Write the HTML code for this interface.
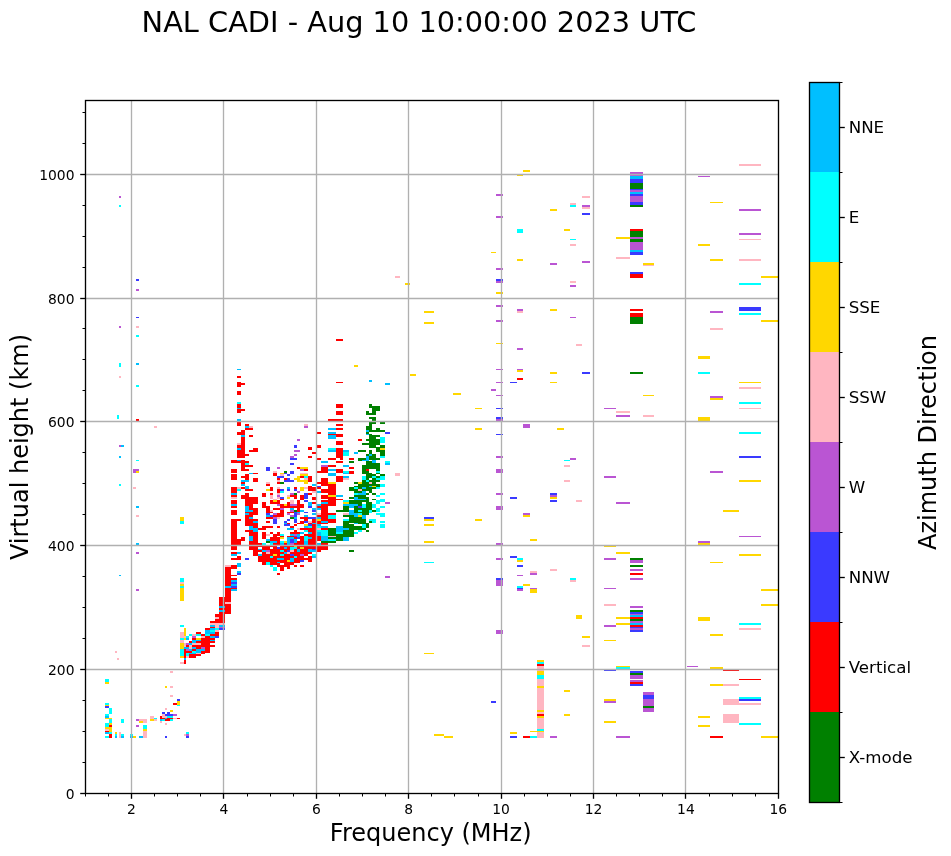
<!DOCTYPE html><html><head><meta charset="utf-8"><title>NAL CADI</title>
<style>html,body{margin:0;padding:0;background:#fff}svg{display:block}text{font-family:"DejaVu Sans","Liberation Sans",sans-serif;fill:#000}</style></head><body>
<svg width="951" height="856" viewBox="0 0 951 856">
<rect width="951" height="856" fill="#fff"/>
<g shape-rendering="crispEdges">
<rect x="105" y="679" width="4" height="3" fill="#00ffff"/>
<rect x="105" y="682" width="4" height="2" fill="#ffd700"/>
<rect x="105" y="703" width="4" height="2" fill="#00ffff"/>
<rect x="105" y="705" width="4" height="1" fill="#ffd700"/>
<rect x="105" y="706" width="4" height="2" fill="#3a3aff"/>
<rect x="109" y="708" width="3" height="6" fill="#00ffff"/>
<rect x="105" y="714" width="4" height="2" fill="#00ffff"/>
<rect x="105" y="716" width="4" height="2" fill="#00bfff"/>
<rect x="105" y="718" width="7" height="1" fill="#ffd700"/>
<rect x="109" y="719" width="3" height="4" fill="#00ffff"/>
<rect x="121" y="719" width="3" height="4" fill="#00ffff"/>
<rect x="105" y="723" width="4" height="4" fill="#00ffff"/>
<rect x="109" y="723" width="3" height="2" fill="#ffd700"/>
<rect x="109" y="725" width="3" height="2" fill="#ff0000"/>
<rect x="105" y="727" width="7" height="2" fill="#ffd700"/>
<rect x="105" y="729" width="4" height="2" fill="#ffb6c1"/>
<rect x="109" y="729" width="3" height="3" fill="#ffd700"/>
<rect x="105" y="731" width="4" height="1" fill="#ff0000"/>
<rect x="105" y="732" width="4" height="2" fill="#00bfff"/>
<rect x="109" y="732" width="3" height="2" fill="#00ffff"/>
<rect x="109" y="734" width="3" height="4" fill="#ff0000"/>
<rect x="105" y="736" width="4" height="2" fill="#00ffff"/>
<rect x="115" y="732" width="2" height="2" fill="#ffd700"/>
<rect x="115" y="734" width="2" height="2" fill="#00ffff"/>
<rect x="115" y="736" width="2" height="2" fill="#00bfff"/>
<rect x="119" y="732" width="2" height="6" fill="#ffb6c1"/>
<rect x="121" y="734" width="3" height="2" fill="#00ffff"/>
<rect x="121" y="736" width="3" height="2" fill="#00bfff"/>
<rect x="130" y="734" width="3" height="2" fill="#00ffff"/>
<rect x="130" y="736" width="3" height="2" fill="#00bfff"/>
<rect x="133" y="736" width="3" height="2" fill="#ffd700"/>
<rect x="139" y="736" width="4" height="2" fill="#00bfff"/>
<rect x="136" y="719" width="3" height="2" fill="#ba55d3"/>
<rect x="139" y="719" width="8" height="2" fill="#ffb6c1"/>
<rect x="139" y="721" width="4" height="2" fill="#ffd700"/>
<rect x="143" y="721" width="4" height="2" fill="#ffb6c1"/>
<rect x="136" y="725" width="3" height="2" fill="#ba55d3"/>
<rect x="143" y="725" width="4" height="4" fill="#00ffff"/>
<rect x="143" y="729" width="4" height="2" fill="#ffd700"/>
<rect x="143" y="731" width="4" height="7" fill="#ffb6c1"/>
<rect x="150" y="716" width="4" height="3" fill="#ffb6c1"/>
<rect x="150" y="719" width="4" height="2" fill="#ffd700"/>
<rect x="154" y="718" width="3" height="1" fill="#00ffff"/>
<rect x="154" y="719" width="3" height="2" fill="#ffb6c1"/>
<rect x="170" y="695" width="3" height="2" fill="#ffb6c1"/>
<rect x="177" y="699" width="3" height="2" fill="#3a3aff"/>
<rect x="177" y="701" width="3" height="4" fill="#ffd700"/>
<rect x="173" y="703" width="4" height="2" fill="#ff0000"/>
<rect x="177" y="705" width="3" height="1" fill="#00ffff"/>
<rect x="165" y="708" width="2" height="2" fill="#ffb6c1"/>
<rect x="170" y="710" width="3" height="2" fill="#ffd700"/>
<rect x="162" y="712" width="3" height="2" fill="#3a3aff"/>
<rect x="167" y="712" width="3" height="2" fill="#3a3aff"/>
<rect x="162" y="714" width="3" height="2" fill="#ffb6c1"/>
<rect x="165" y="714" width="8" height="2" fill="#3a3aff"/>
<rect x="173" y="714" width="4" height="2" fill="#ba55d3"/>
<rect x="160" y="716" width="2" height="3" fill="#ff0000"/>
<rect x="162" y="716" width="5" height="2" fill="#ffb6c1"/>
<rect x="167" y="716" width="6" height="2" fill="#00ffff"/>
<rect x="162" y="718" width="3" height="1" fill="#ff0000"/>
<rect x="165" y="718" width="2" height="1" fill="#00bfff"/>
<rect x="167" y="718" width="6" height="1" fill="#ff0000"/>
<rect x="173" y="718" width="4" height="1" fill="#ffb6c1"/>
<rect x="177" y="718" width="3" height="1" fill="#ff0000"/>
<rect x="160" y="719" width="2" height="2" fill="#00bfff"/>
<rect x="162" y="719" width="3" height="2" fill="#00ffff"/>
<rect x="165" y="719" width="5" height="2" fill="#ff0000"/>
<rect x="170" y="719" width="3" height="2" fill="#00ffff"/>
<rect x="160" y="721" width="2" height="2" fill="#ffb6c1"/>
<rect x="165" y="723" width="2" height="2" fill="#ffb6c1"/>
<rect x="165" y="736" width="2" height="2" fill="#3a3aff"/>
<rect x="186" y="732" width="3" height="2" fill="#00ffff"/>
<rect x="184" y="734" width="2" height="2" fill="#ffb6c1"/>
<rect x="186" y="734" width="3" height="2" fill="#ba55d3"/>
<rect x="186" y="736" width="3" height="2" fill="#3a3aff"/>
<rect x="170" y="671" width="3" height="2" fill="#ffb6c1"/>
<rect x="165" y="686" width="2" height="2" fill="#ffd700"/>
<rect x="170" y="686" width="3" height="2" fill="#ffb6c1"/>
<rect x="119" y="196" width="2" height="2" fill="#ba55d3"/>
<rect x="119" y="205" width="2" height="2" fill="#00ffff"/>
<rect x="136" y="279" width="3" height="2" fill="#3a3aff"/>
<rect x="136" y="289" width="3" height="2" fill="#ba55d3"/>
<rect x="136" y="317" width="3" height="1" fill="#3a3aff"/>
<rect x="119" y="326" width="2" height="2" fill="#ba55d3"/>
<rect x="136" y="326" width="3" height="2" fill="#ffb6c1"/>
<rect x="136" y="335" width="3" height="2" fill="#00ffff"/>
<rect x="119" y="363" width="2" height="4" fill="#00ffff"/>
<rect x="136" y="363" width="3" height="2" fill="#00bfff"/>
<rect x="119" y="376" width="2" height="2" fill="#ffb6c1"/>
<rect x="136" y="385" width="3" height="2" fill="#00ffff"/>
<rect x="117" y="415" width="2" height="4" fill="#00ffff"/>
<rect x="136" y="419" width="3" height="2" fill="#ff0000"/>
<rect x="154" y="426" width="3" height="2" fill="#ffb6c1"/>
<rect x="119" y="445" width="2" height="2" fill="#ba55d3"/>
<rect x="121" y="445" width="3" height="2" fill="#00bfff"/>
<rect x="119" y="456" width="2" height="2" fill="#00bfff"/>
<rect x="136" y="460" width="3" height="1" fill="#00ffff"/>
<rect x="133" y="469" width="6" height="2" fill="#ba55d3"/>
<rect x="133" y="471" width="3" height="2" fill="#ba55d3"/>
<rect x="136" y="471" width="3" height="2" fill="#ffd700"/>
<rect x="119" y="484" width="2" height="2" fill="#00ffff"/>
<rect x="133" y="487" width="3" height="2" fill="#ffb6c1"/>
<rect x="136" y="506" width="3" height="2" fill="#00bfff"/>
<rect x="136" y="515" width="3" height="2" fill="#ffb6c1"/>
<rect x="180" y="517" width="4" height="4" fill="#ffd700"/>
<rect x="180" y="521" width="4" height="3" fill="#00ffff"/>
<rect x="136" y="543" width="3" height="2" fill="#00bfff"/>
<rect x="136" y="552" width="3" height="2" fill="#ba55d3"/>
<rect x="119" y="575" width="2" height="1" fill="#00bfff"/>
<rect x="136" y="589" width="3" height="2" fill="#ba55d3"/>
<rect x="180" y="578" width="4" height="4" fill="#00ffff"/>
<rect x="180" y="582" width="4" height="2" fill="#ffb6c1"/>
<rect x="180" y="584" width="4" height="2" fill="#ffd700"/>
<rect x="180" y="586" width="4" height="2" fill="#00ffff"/>
<rect x="180" y="588" width="4" height="13" fill="#ffd700"/>
<rect x="115" y="651" width="2" height="2" fill="#ffb6c1"/>
<rect x="117" y="658" width="2" height="2" fill="#ffb6c1"/>
<rect x="395" y="276" width="5" height="2" fill="#ffb6c1"/>
<rect x="405" y="283" width="5" height="2" fill="#ffd700"/>
<rect x="424" y="311" width="10" height="2" fill="#ffd700"/>
<rect x="424" y="322" width="10" height="2" fill="#ffd700"/>
<rect x="336" y="339" width="7" height="2" fill="#ff0000"/>
<rect x="354" y="365" width="4" height="2" fill="#ffd700"/>
<rect x="410" y="374" width="6" height="2" fill="#ffd700"/>
<rect x="453" y="393" width="8" height="2" fill="#ffd700"/>
<rect x="475" y="408" width="7" height="1" fill="#ffd700"/>
<rect x="475" y="428" width="7" height="2" fill="#ffd700"/>
<rect x="496" y="369" width="7" height="1" fill="#ba55d3"/>
<rect x="496" y="382" width="7" height="1" fill="#ba55d3"/>
<rect x="491" y="389" width="5" height="2" fill="#ba55d3"/>
<rect x="496" y="395" width="7" height="1" fill="#ba55d3"/>
<rect x="496" y="408" width="7" height="1" fill="#3a3aff"/>
<rect x="496" y="417" width="7" height="2" fill="#3a3aff"/>
<rect x="496" y="419" width="7" height="2" fill="#ba55d3"/>
<rect x="496" y="434" width="7" height="1" fill="#3a3aff"/>
<rect x="496" y="456" width="7" height="2" fill="#ba55d3"/>
<rect x="496" y="469" width="7" height="4" fill="#ba55d3"/>
<rect x="523" y="170" width="7" height="2" fill="#ffd700"/>
<rect x="517" y="175" width="6" height="1" fill="#ffd700"/>
<rect x="496" y="194" width="7" height="2" fill="#ba55d3"/>
<rect x="496" y="216" width="7" height="2" fill="#ba55d3"/>
<rect x="517" y="229" width="6" height="4" fill="#00ffff"/>
<rect x="550" y="209" width="7" height="2" fill="#ffd700"/>
<rect x="570" y="203" width="6" height="2" fill="#ffb6c1"/>
<rect x="570" y="205" width="6" height="2" fill="#00ffff"/>
<rect x="564" y="229" width="6" height="2" fill="#ffd700"/>
<rect x="570" y="239" width="6" height="1" fill="#00ffff"/>
<rect x="570" y="244" width="6" height="2" fill="#ffb6c1"/>
<rect x="491" y="252" width="5" height="1" fill="#ffd700"/>
<rect x="582" y="196" width="8" height="2" fill="#ffb6c1"/>
<rect x="582" y="205" width="8" height="2" fill="#ba55d3"/>
<rect x="582" y="207" width="8" height="2" fill="#ffb6c1"/>
<rect x="582" y="213" width="8" height="2" fill="#3a3aff"/>
<rect x="630" y="172" width="13" height="4" fill="#ba55d3"/>
<rect x="630" y="176" width="13" height="3" fill="#00bfff"/>
<rect x="630" y="179" width="13" height="4" fill="#3a3aff"/>
<rect x="630" y="183" width="13" height="6" fill="#008000"/>
<rect x="630" y="189" width="13" height="1" fill="#3a3aff"/>
<rect x="630" y="190" width="13" height="2" fill="#ba55d3"/>
<rect x="630" y="192" width="13" height="2" fill="#00bfff"/>
<rect x="630" y="194" width="13" height="2" fill="#3a3aff"/>
<rect x="630" y="196" width="13" height="6" fill="#ba55d3"/>
<rect x="630" y="202" width="13" height="3" fill="#3a3aff"/>
<rect x="630" y="205" width="13" height="2" fill="#008000"/>
<rect x="630" y="229" width="13" height="2" fill="#ff0000"/>
<rect x="630" y="231" width="13" height="6" fill="#008000"/>
<rect x="630" y="237" width="13" height="2" fill="#ba55d3"/>
<rect x="630" y="239" width="13" height="3" fill="#008000"/>
<rect x="630" y="242" width="13" height="8" fill="#ba55d3"/>
<rect x="630" y="250" width="13" height="2" fill="#00bfff"/>
<rect x="630" y="252" width="13" height="3" fill="#3a3aff"/>
<rect x="616" y="237" width="14" height="2" fill="#ffd700"/>
<rect x="616" y="257" width="14" height="2" fill="#ffb6c1"/>
<rect x="582" y="261" width="8" height="2" fill="#ba55d3"/>
<rect x="643" y="263" width="11" height="2" fill="#ffd700"/>
<rect x="643" y="265" width="11" height="1" fill="#ffb6c1"/>
<rect x="630" y="272" width="13" height="2" fill="#3a3aff"/>
<rect x="630" y="274" width="13" height="4" fill="#ff0000"/>
<rect x="630" y="309" width="13" height="2" fill="#ff0000"/>
<rect x="630" y="313" width="13" height="4" fill="#ff0000"/>
<rect x="630" y="317" width="13" height="7" fill="#008000"/>
<rect x="576" y="344" width="6" height="2" fill="#ffb6c1"/>
<rect x="582" y="372" width="8" height="2" fill="#3a3aff"/>
<rect x="630" y="372" width="13" height="2" fill="#008000"/>
<rect x="643" y="395" width="11" height="1" fill="#ffd700"/>
<rect x="604" y="408" width="12" height="1" fill="#ba55d3"/>
<rect x="616" y="411" width="14" height="2" fill="#ffb6c1"/>
<rect x="616" y="415" width="14" height="2" fill="#ba55d3"/>
<rect x="643" y="415" width="11" height="2" fill="#ffb6c1"/>
<rect x="604" y="476" width="12" height="2" fill="#ba55d3"/>
<rect x="576" y="500" width="6" height="2" fill="#ffb6c1"/>
<rect x="616" y="502" width="14" height="2" fill="#ba55d3"/>
<rect x="604" y="546" width="12" height="1" fill="#ffd700"/>
<rect x="616" y="552" width="14" height="2" fill="#ffd700"/>
<rect x="604" y="558" width="12" height="2" fill="#ba55d3"/>
<rect x="630" y="558" width="13" height="2" fill="#008000"/>
<rect x="630" y="560" width="13" height="3" fill="#ba55d3"/>
<rect x="630" y="565" width="13" height="2" fill="#008000"/>
<rect x="630" y="569" width="13" height="2" fill="#ba55d3"/>
<rect x="630" y="573" width="13" height="2" fill="#ff0000"/>
<rect x="630" y="578" width="13" height="2" fill="#ba55d3"/>
<rect x="604" y="588" width="12" height="1" fill="#ba55d3"/>
<rect x="604" y="604" width="12" height="2" fill="#ffb6c1"/>
<rect x="630" y="606" width="13" height="2" fill="#ba55d3"/>
<rect x="630" y="610" width="13" height="2" fill="#008000"/>
<rect x="630" y="612" width="13" height="2" fill="#3a3aff"/>
<rect x="630" y="614" width="13" height="1" fill="#ba55d3"/>
<rect x="630" y="615" width="13" height="2" fill="#00bfff"/>
<rect x="630" y="617" width="13" height="2" fill="#ff0000"/>
<rect x="630" y="619" width="13" height="2" fill="#008000"/>
<rect x="630" y="621" width="13" height="2" fill="#ba55d3"/>
<rect x="630" y="623" width="13" height="2" fill="#00bfff"/>
<rect x="630" y="625" width="13" height="2" fill="#ff0000"/>
<rect x="630" y="627" width="13" height="1" fill="#3a3aff"/>
<rect x="630" y="628" width="13" height="2" fill="#ba55d3"/>
<rect x="630" y="630" width="13" height="2" fill="#3a3aff"/>
<rect x="616" y="617" width="14" height="2" fill="#ffd700"/>
<rect x="616" y="623" width="14" height="2" fill="#ffd700"/>
<rect x="604" y="625" width="12" height="2" fill="#ba55d3"/>
<rect x="604" y="640" width="12" height="1" fill="#ffd700"/>
<rect x="576" y="615" width="6" height="4" fill="#ffd700"/>
<rect x="582" y="636" width="8" height="2" fill="#ffd700"/>
<rect x="582" y="645" width="8" height="2" fill="#ffb6c1"/>
<rect x="616" y="666" width="14" height="1" fill="#ffd700"/>
<rect x="616" y="667" width="14" height="2" fill="#00ffff"/>
<rect x="604" y="670" width="12" height="1" fill="#3a3aff"/>
<rect x="630" y="671" width="13" height="2" fill="#3a3aff"/>
<rect x="630" y="673" width="13" height="2" fill="#008000"/>
<rect x="630" y="675" width="13" height="4" fill="#ba55d3"/>
<rect x="630" y="680" width="13" height="2" fill="#ba55d3"/>
<rect x="630" y="682" width="13" height="2" fill="#ff0000"/>
<rect x="630" y="684" width="13" height="2" fill="#3a3aff"/>
<rect x="643" y="692" width="11" height="3" fill="#ba55d3"/>
<rect x="643" y="695" width="11" height="4" fill="#3a3aff"/>
<rect x="643" y="699" width="11" height="7" fill="#ba55d3"/>
<rect x="643" y="706" width="11" height="2" fill="#008000"/>
<rect x="643" y="708" width="11" height="4" fill="#ba55d3"/>
<rect x="604" y="699" width="12" height="2" fill="#ffd700"/>
<rect x="604" y="701" width="12" height="2" fill="#ba55d3"/>
<rect x="604" y="721" width="12" height="2" fill="#ffd700"/>
<rect x="616" y="736" width="14" height="2" fill="#ba55d3"/>
<rect x="739" y="164" width="22" height="2" fill="#ffb6c1"/>
<rect x="698" y="176" width="12" height="1" fill="#ba55d3"/>
<rect x="710" y="202" width="13" height="1" fill="#ffd700"/>
<rect x="739" y="209" width="22" height="2" fill="#ba55d3"/>
<rect x="739" y="233" width="22" height="2" fill="#ba55d3"/>
<rect x="739" y="239" width="22" height="1" fill="#ffb6c1"/>
<rect x="698" y="244" width="12" height="2" fill="#ffd700"/>
<rect x="710" y="259" width="13" height="2" fill="#ffd700"/>
<rect x="739" y="259" width="22" height="2" fill="#ffb6c1"/>
<rect x="761" y="276" width="17" height="2" fill="#ffd700"/>
<rect x="739" y="283" width="22" height="2" fill="#00ffff"/>
<rect x="739" y="307" width="22" height="4" fill="#3a3aff"/>
<rect x="739" y="313" width="22" height="2" fill="#00ffff"/>
<rect x="710" y="311" width="13" height="2" fill="#ba55d3"/>
<rect x="761" y="320" width="17" height="2" fill="#ffd700"/>
<rect x="710" y="328" width="13" height="2" fill="#ffb6c1"/>
<rect x="698" y="356" width="12" height="3" fill="#ffd700"/>
<rect x="698" y="372" width="12" height="2" fill="#00ffff"/>
<rect x="739" y="382" width="22" height="1" fill="#ffd700"/>
<rect x="739" y="387" width="22" height="2" fill="#ffb6c1"/>
<rect x="710" y="396" width="13" height="2" fill="#ba55d3"/>
<rect x="710" y="398" width="13" height="2" fill="#ffd700"/>
<rect x="739" y="402" width="22" height="2" fill="#00ffff"/>
<rect x="739" y="408" width="22" height="1" fill="#ffb6c1"/>
<rect x="698" y="417" width="12" height="4" fill="#ffd700"/>
<rect x="739" y="432" width="22" height="2" fill="#00ffff"/>
<rect x="739" y="456" width="22" height="2" fill="#3a3aff"/>
<rect x="710" y="471" width="13" height="2" fill="#ba55d3"/>
<rect x="739" y="480" width="22" height="2" fill="#ffd700"/>
<rect x="723" y="510" width="16" height="2" fill="#ffd700"/>
<rect x="739" y="536" width="22" height="1" fill="#ba55d3"/>
<rect x="698" y="541" width="12" height="2" fill="#ba55d3"/>
<rect x="698" y="543" width="12" height="2" fill="#ffd700"/>
<rect x="739" y="554" width="22" height="2" fill="#ffd700"/>
<rect x="710" y="562" width="13" height="1" fill="#ffd700"/>
<rect x="761" y="589" width="17" height="2" fill="#ffd700"/>
<rect x="761" y="604" width="17" height="2" fill="#ffd700"/>
<rect x="698" y="617" width="12" height="4" fill="#ffd700"/>
<rect x="739" y="623" width="22" height="2" fill="#00ffff"/>
<rect x="739" y="628" width="22" height="2" fill="#ffb6c1"/>
<rect x="710" y="634" width="13" height="2" fill="#ffd700"/>
<rect x="687" y="666" width="11" height="1" fill="#ba55d3"/>
<rect x="710" y="667" width="13" height="2" fill="#ffd700"/>
<rect x="723" y="670" width="16" height="1" fill="#ff0000"/>
<rect x="739" y="679" width="22" height="1" fill="#ff0000"/>
<rect x="710" y="684" width="13" height="2" fill="#ffd700"/>
<rect x="723" y="684" width="16" height="2" fill="#ffb6c1"/>
<rect x="739" y="697" width="22" height="2" fill="#00ffff"/>
<rect x="739" y="699" width="22" height="2" fill="#3a3aff"/>
<rect x="723" y="699" width="16" height="6" fill="#ffb6c1"/>
<rect x="739" y="703" width="22" height="2" fill="#ffb6c1"/>
<rect x="723" y="714" width="16" height="9" fill="#ffb6c1"/>
<rect x="739" y="723" width="22" height="2" fill="#00ffff"/>
<rect x="698" y="716" width="12" height="2" fill="#ffd700"/>
<rect x="698" y="725" width="12" height="2" fill="#ffd700"/>
<rect x="710" y="736" width="13" height="2" fill="#ff0000"/>
<rect x="761" y="736" width="17" height="2" fill="#ffd700"/>
<rect x="517" y="259" width="6" height="2" fill="#ffd700"/>
<rect x="550" y="263" width="7" height="2" fill="#ba55d3"/>
<rect x="496" y="268" width="7" height="2" fill="#ba55d3"/>
<rect x="496" y="279" width="7" height="2" fill="#3a3aff"/>
<rect x="496" y="281" width="7" height="2" fill="#ba55d3"/>
<rect x="496" y="292" width="7" height="2" fill="#ffd700"/>
<rect x="570" y="281" width="6" height="2" fill="#ffb6c1"/>
<rect x="570" y="285" width="6" height="2" fill="#ba55d3"/>
<rect x="496" y="305" width="7" height="2" fill="#ba55d3"/>
<rect x="517" y="309" width="6" height="2" fill="#ba55d3"/>
<rect x="517" y="311" width="6" height="2" fill="#ffb6c1"/>
<rect x="550" y="309" width="7" height="2" fill="#ffd700"/>
<rect x="570" y="317" width="6" height="1" fill="#ba55d3"/>
<rect x="496" y="320" width="7" height="2" fill="#ba55d3"/>
<rect x="496" y="343" width="7" height="1" fill="#ffd700"/>
<rect x="517" y="348" width="6" height="2" fill="#ba55d3"/>
<rect x="517" y="369" width="6" height="1" fill="#ba55d3"/>
<rect x="517" y="370" width="6" height="2" fill="#ffd700"/>
<rect x="517" y="378" width="6" height="2" fill="#ff0000"/>
<rect x="510" y="382" width="7" height="1" fill="#3a3aff"/>
<rect x="550" y="372" width="7" height="2" fill="#ffd700"/>
<rect x="550" y="382" width="7" height="1" fill="#ffd700"/>
<rect x="523" y="424" width="7" height="4" fill="#ba55d3"/>
<rect x="557" y="428" width="7" height="2" fill="#ffd700"/>
<rect x="496" y="493" width="7" height="2" fill="#ba55d3"/>
<rect x="496" y="506" width="7" height="4" fill="#ba55d3"/>
<rect x="496" y="543" width="7" height="2" fill="#ba55d3"/>
<rect x="510" y="497" width="7" height="2" fill="#3a3aff"/>
<rect x="523" y="513" width="7" height="2" fill="#ba55d3"/>
<rect x="523" y="515" width="7" height="2" fill="#ffd700"/>
<rect x="530" y="539" width="7" height="2" fill="#ffd700"/>
<rect x="550" y="493" width="7" height="2" fill="#3a3aff"/>
<rect x="550" y="495" width="7" height="2" fill="#ba55d3"/>
<rect x="550" y="497" width="7" height="2" fill="#ffd700"/>
<rect x="550" y="500" width="7" height="2" fill="#3a3aff"/>
<rect x="564" y="460" width="6" height="1" fill="#00ffff"/>
<rect x="570" y="458" width="6" height="2" fill="#ba55d3"/>
<rect x="564" y="465" width="6" height="2" fill="#ffb6c1"/>
<rect x="564" y="480" width="6" height="2" fill="#ffb6c1"/>
<rect x="576" y="500" width="6" height="2" fill="#ffb6c1"/>
<rect x="496" y="558" width="7" height="2" fill="#ba55d3"/>
<rect x="510" y="556" width="7" height="2" fill="#3a3aff"/>
<rect x="517" y="558" width="6" height="2" fill="#00ffff"/>
<rect x="517" y="560" width="6" height="2" fill="#ffd700"/>
<rect x="517" y="565" width="6" height="2" fill="#3a3aff"/>
<rect x="517" y="575" width="6" height="1" fill="#ba55d3"/>
<rect x="530" y="571" width="7" height="2" fill="#ffb6c1"/>
<rect x="530" y="573" width="7" height="2" fill="#ba55d3"/>
<rect x="550" y="569" width="7" height="2" fill="#ffb6c1"/>
<rect x="496" y="578" width="7" height="2" fill="#3a3aff"/>
<rect x="496" y="580" width="7" height="6" fill="#ba55d3"/>
<rect x="523" y="584" width="7" height="2" fill="#ffd700"/>
<rect x="517" y="586" width="6" height="2" fill="#00ffff"/>
<rect x="517" y="588" width="6" height="1" fill="#3a3aff"/>
<rect x="517" y="589" width="6" height="2" fill="#ba55d3"/>
<rect x="530" y="588" width="7" height="1" fill="#ba55d3"/>
<rect x="530" y="589" width="7" height="4" fill="#ffd700"/>
<rect x="570" y="578" width="6" height="2" fill="#00ffff"/>
<rect x="570" y="580" width="6" height="2" fill="#ffb6c1"/>
<rect x="496" y="630" width="7" height="4" fill="#ba55d3"/>
<rect x="537" y="666" width="7" height="72" fill="#ffb6c1"/>
<rect x="537" y="660" width="7" height="2" fill="#ffd700"/>
<rect x="537" y="662" width="7" height="2" fill="#00ffff"/>
<rect x="537" y="664" width="7" height="2" fill="#ff0000"/>
<rect x="537" y="671" width="7" height="4" fill="#ffd700"/>
<rect x="537" y="675" width="7" height="4" fill="#00ffff"/>
<rect x="537" y="686" width="7" height="2" fill="#ffd700"/>
<rect x="537" y="710" width="7" height="2" fill="#ffd700"/>
<rect x="537" y="714" width="7" height="2" fill="#ff0000"/>
<rect x="537" y="716" width="7" height="2" fill="#ffd700"/>
<rect x="537" y="729" width="7" height="2" fill="#00ffff"/>
<rect x="530" y="731" width="14" height="1" fill="#ffd700"/>
<rect x="491" y="701" width="5" height="2" fill="#3a3aff"/>
<rect x="510" y="732" width="7" height="2" fill="#ffd700"/>
<rect x="510" y="736" width="7" height="2" fill="#3a3aff"/>
<rect x="523" y="736" width="7" height="2" fill="#ff0000"/>
<rect x="530" y="736" width="7" height="2" fill="#00ffff"/>
<rect x="550" y="736" width="7" height="2" fill="#ba55d3"/>
<rect x="564" y="690" width="6" height="2" fill="#ffd700"/>
<rect x="564" y="714" width="6" height="2" fill="#ffd700"/>
<rect x="395" y="473" width="5" height="3" fill="#ffb6c1"/>
<rect x="385" y="502" width="5" height="2" fill="#ba55d3"/>
<rect x="424" y="517" width="10" height="2" fill="#3a3aff"/>
<rect x="424" y="519" width="10" height="2" fill="#ffd700"/>
<rect x="424" y="524" width="10" height="2" fill="#ffd700"/>
<rect x="424" y="541" width="10" height="2" fill="#ffd700"/>
<rect x="424" y="562" width="10" height="1" fill="#00ffff"/>
<rect x="475" y="519" width="7" height="2" fill="#ffd700"/>
<rect x="385" y="576" width="5" height="2" fill="#ba55d3"/>
<rect x="424" y="653" width="10" height="1" fill="#ffd700"/>
<rect x="434" y="734" width="10" height="2" fill="#ffd700"/>
<rect x="444" y="736" width="9" height="2" fill="#ffd700"/>
<rect x="180" y="625" width="4" height="2" fill="#00ffff"/>
<rect x="180" y="632" width="4" height="6" fill="#ffb6c1"/>
<rect x="180" y="638" width="4" height="2" fill="#00ffff"/>
<rect x="180" y="640" width="4" height="3" fill="#ffb6c1"/>
<rect x="180" y="643" width="4" height="6" fill="#ffd700"/>
<rect x="180" y="649" width="4" height="7" fill="#00ffff"/>
<rect x="180" y="656" width="4" height="2" fill="#ffd700"/>
<rect x="180" y="662" width="4" height="2" fill="#ffb6c1"/>
<rect x="184" y="628" width="2" height="8" fill="#ffd700"/>
<rect x="184" y="636" width="2" height="2" fill="#ffb6c1"/>
<rect x="184" y="638" width="2" height="2" fill="#ffd700"/>
<rect x="184" y="643" width="2" height="4" fill="#ffb6c1"/>
<rect x="184" y="647" width="2" height="2" fill="#00bfff"/>
<rect x="184" y="649" width="2" height="9" fill="#ff0000"/>
<rect x="184" y="658" width="2" height="2" fill="#00bfff"/>
<rect x="184" y="660" width="2" height="4" fill="#ff0000"/>
<rect x="186" y="636" width="3" height="2" fill="#00ffff"/>
<rect x="186" y="638" width="3" height="2" fill="#00bfff"/>
<rect x="186" y="643" width="3" height="2" fill="#ba55d3"/>
<rect x="186" y="645" width="3" height="2" fill="#ff0000"/>
<rect x="186" y="647" width="3" height="2" fill="#00bfff"/>
<rect x="186" y="649" width="3" height="2" fill="#ba55d3"/>
<rect x="186" y="651" width="3" height="2" fill="#ff0000"/>
<rect x="186" y="653" width="3" height="3" fill="#00ffff"/>
<rect x="186" y="656" width="3" height="2" fill="#ffb6c1"/>
<rect x="189" y="634" width="3" height="2" fill="#00ffff"/>
<rect x="189" y="641" width="3" height="2" fill="#ff0000"/>
<rect x="189" y="643" width="3" height="2" fill="#00bfff"/>
<rect x="189" y="645" width="3" height="4" fill="#ffb6c1"/>
<rect x="189" y="649" width="3" height="2" fill="#00bfff"/>
<rect x="189" y="651" width="3" height="2" fill="#ff0000"/>
<rect x="189" y="653" width="3" height="1" fill="#00bfff"/>
<rect x="189" y="654" width="3" height="4" fill="#ff0000"/>
<rect x="192" y="634" width="4" height="2" fill="#ffb6c1"/>
<rect x="192" y="636" width="4" height="2" fill="#ba55d3"/>
<rect x="192" y="638" width="4" height="2" fill="#ff0000"/>
<rect x="192" y="640" width="4" height="3" fill="#00bfff"/>
<rect x="192" y="643" width="4" height="2" fill="#ffb6c1"/>
<rect x="192" y="645" width="4" height="2" fill="#ff0000"/>
<rect x="192" y="647" width="4" height="2" fill="#00bfff"/>
<rect x="192" y="649" width="4" height="2" fill="#ff0000"/>
<rect x="192" y="651" width="4" height="2" fill="#00ffff"/>
<rect x="192" y="653" width="4" height="1" fill="#00bfff"/>
<rect x="192" y="654" width="4" height="4" fill="#ff0000"/>
<rect x="196" y="632" width="5" height="2" fill="#ff0000"/>
<rect x="196" y="634" width="5" height="2" fill="#00ffff"/>
<rect x="196" y="638" width="5" height="2" fill="#ffd700"/>
<rect x="196" y="640" width="5" height="1" fill="#00bfff"/>
<rect x="196" y="641" width="5" height="2" fill="#ff0000"/>
<rect x="196" y="643" width="5" height="2" fill="#ffb6c1"/>
<rect x="196" y="645" width="5" height="4" fill="#ff0000"/>
<rect x="196" y="649" width="5" height="4" fill="#00bfff"/>
<rect x="196" y="653" width="5" height="1" fill="#ffb6c1"/>
<rect x="196" y="654" width="5" height="2" fill="#ff0000"/>
<rect x="201" y="634" width="4" height="2" fill="#ff0000"/>
<rect x="201" y="636" width="4" height="2" fill="#ffb6c1"/>
<rect x="201" y="638" width="4" height="9" fill="#ff0000"/>
<rect x="201" y="647" width="4" height="2" fill="#ba55d3"/>
<rect x="201" y="649" width="4" height="2" fill="#00bfff"/>
<rect x="201" y="651" width="4" height="3" fill="#ff0000"/>
<rect x="205" y="628" width="5" height="2" fill="#ff0000"/>
<rect x="205" y="630" width="5" height="4" fill="#00bfff"/>
<rect x="205" y="634" width="5" height="2" fill="#00ffff"/>
<rect x="205" y="636" width="5" height="17" fill="#ff0000"/>
<rect x="210" y="621" width="5" height="2" fill="#ff0000"/>
<rect x="210" y="623" width="5" height="2" fill="#ffb6c1"/>
<rect x="210" y="625" width="5" height="2" fill="#00bfff"/>
<rect x="210" y="627" width="5" height="1" fill="#ff0000"/>
<rect x="210" y="628" width="5" height="2" fill="#00bfff"/>
<rect x="210" y="630" width="5" height="2" fill="#00ffff"/>
<rect x="210" y="632" width="5" height="2" fill="#00bfff"/>
<rect x="210" y="634" width="5" height="2" fill="#ff0000"/>
<rect x="210" y="636" width="5" height="2" fill="#00bfff"/>
<rect x="210" y="638" width="5" height="2" fill="#ff0000"/>
<rect x="210" y="640" width="5" height="1" fill="#00bfff"/>
<rect x="210" y="641" width="5" height="2" fill="#ff0000"/>
<rect x="210" y="645" width="5" height="2" fill="#ff0000"/>
<rect x="215" y="616" width="4" height="7" fill="#ff0000"/>
<rect x="215" y="617" width="4" height="2" fill="#ffb6c1"/>
<rect x="215" y="623" width="4" height="5" fill="#ffb6c1"/>
<rect x="215" y="628" width="4" height="2" fill="#00ffff"/>
<rect x="215" y="630" width="4" height="2" fill="#ffb6c1"/>
<rect x="215" y="632" width="4" height="4" fill="#ff0000"/>
<rect x="215" y="636" width="4" height="2" fill="#3a3aff"/>
<rect x="219" y="616" width="6" height="7" fill="#ff0000"/>
<rect x="219" y="623" width="6" height="2" fill="#ffb6c1"/>
<rect x="219" y="625" width="6" height="2" fill="#00bfff"/>
<rect x="219" y="627" width="6" height="1" fill="#ba55d3"/>
<rect x="219" y="628" width="6" height="2" fill="#3a3aff"/>
<rect x="225" y="565" width="6" height="49" fill="#ff0000"/>
<rect x="225" y="565" width="6" height="2" fill="#ffb6c1"/>
<rect x="225" y="586" width="6" height="2" fill="#00bfff"/>
<rect x="225" y="602" width="6" height="2" fill="#ffb6c1"/>
<rect x="231" y="565" width="6" height="4" fill="#ff0000"/>
<rect x="231" y="575" width="6" height="1" fill="#ff0000"/>
<rect x="231" y="578" width="6" height="2" fill="#ff0000"/>
<rect x="231" y="580" width="6" height="2" fill="#00bfff"/>
<rect x="231" y="582" width="6" height="2" fill="#3a3aff"/>
<rect x="231" y="584" width="6" height="2" fill="#00bfff"/>
<rect x="231" y="586" width="6" height="2" fill="#3a3aff"/>
<rect x="231" y="588" width="6" height="1" fill="#ff0000"/>
<rect x="231" y="589" width="6" height="2" fill="#00bfff"/>
<rect x="237" y="563" width="4" height="4" fill="#00bfff"/>
<rect x="237" y="571" width="4" height="2" fill="#00bfff"/>
<rect x="237" y="573" width="4" height="2" fill="#3a3aff"/>
<rect x="219" y="597" width="6" height="17" fill="#ff0000"/>
<rect x="219" y="606" width="6" height="2" fill="#00bfff"/>
<rect x="219" y="610" width="6" height="2" fill="#00bfff"/>
<rect x="215" y="614" width="10" height="2" fill="#ff0000"/>
<rect x="231" y="510" width="6" height="5" fill="#ff0000"/>
<rect x="231" y="519" width="6" height="31" fill="#ff0000"/>
<rect x="231" y="552" width="6" height="2" fill="#ff0000"/>
<rect x="231" y="554" width="6" height="2" fill="#00bfff"/>
<rect x="231" y="558" width="6" height="2" fill="#ff0000"/>
<rect x="237" y="519" width="4" height="2" fill="#ff0000"/>
<rect x="237" y="539" width="4" height="7" fill="#ff0000"/>
<rect x="237" y="552" width="4" height="2" fill="#00bfff"/>
<rect x="237" y="556" width="4" height="4" fill="#ff0000"/>
<rect x="241" y="537" width="4" height="4" fill="#ff0000"/>
<rect x="245" y="508" width="4" height="4" fill="#00bfff"/>
<rect x="245" y="512" width="4" height="14" fill="#ff0000"/>
<rect x="245" y="513" width="4" height="2" fill="#00bfff"/>
<rect x="245" y="530" width="4" height="2" fill="#ff0000"/>
<rect x="245" y="558" width="4" height="2" fill="#3a3aff"/>
<rect x="249" y="508" width="4" height="42" fill="#ff0000"/>
<rect x="249" y="510" width="4" height="2" fill="#00bfff"/>
<rect x="249" y="517" width="4" height="2" fill="#00bfff"/>
<rect x="249" y="526" width="4" height="4" fill="#00bfff"/>
<rect x="249" y="536" width="4" height="5" fill="#00bfff"/>
<rect x="253" y="508" width="5" height="7" fill="#ff0000"/>
<rect x="253" y="519" width="5" height="37" fill="#ff0000"/>
<rect x="253" y="521" width="5" height="2" fill="#00bfff"/>
<rect x="253" y="528" width="5" height="4" fill="#00bfff"/>
<rect x="258" y="528" width="4" height="2" fill="#ff0000"/>
<rect x="258" y="543" width="4" height="4" fill="#ff0000"/>
<rect x="258" y="549" width="4" height="1" fill="#00bfff"/>
<rect x="258" y="550" width="4" height="2" fill="#ff0000"/>
<rect x="258" y="554" width="4" height="2" fill="#00bfff"/>
<rect x="258" y="556" width="4" height="6" fill="#ff0000"/>
<rect x="262" y="526" width="4" height="4" fill="#ff0000"/>
<rect x="262" y="532" width="4" height="7" fill="#ff0000"/>
<rect x="262" y="543" width="4" height="2" fill="#00ffff"/>
<rect x="262" y="546" width="4" height="16" fill="#ff0000"/>
<rect x="262" y="550" width="4" height="2" fill="#00bfff"/>
<rect x="266" y="508" width="4" height="5" fill="#ff0000"/>
<rect x="266" y="513" width="4" height="2" fill="#3a3aff"/>
<rect x="266" y="515" width="4" height="2" fill="#00bfff"/>
<rect x="266" y="517" width="4" height="2" fill="#ff0000"/>
<rect x="266" y="521" width="4" height="2" fill="#ff0000"/>
<rect x="266" y="526" width="4" height="2" fill="#ff0000"/>
<rect x="266" y="534" width="4" height="2" fill="#ffb6c1"/>
<rect x="266" y="539" width="4" height="2" fill="#00bfff"/>
<rect x="266" y="541" width="4" height="2" fill="#008000"/>
<rect x="266" y="546" width="4" height="16" fill="#ff0000"/>
<rect x="266" y="550" width="4" height="2" fill="#ba55d3"/>
<rect x="266" y="552" width="4" height="2" fill="#ffb6c1"/>
<rect x="270" y="510" width="3" height="2" fill="#ffb6c1"/>
<rect x="270" y="512" width="3" height="1" fill="#ff0000"/>
<rect x="270" y="515" width="3" height="2" fill="#3a3aff"/>
<rect x="270" y="517" width="3" height="2" fill="#ff0000"/>
<rect x="270" y="526" width="3" height="2" fill="#ff0000"/>
<rect x="270" y="532" width="3" height="2" fill="#ff0000"/>
<rect x="270" y="537" width="3" height="4" fill="#ff0000"/>
<rect x="270" y="541" width="3" height="2" fill="#00bfff"/>
<rect x="270" y="543" width="3" height="2" fill="#00ffff"/>
<rect x="270" y="546" width="3" height="1" fill="#ff0000"/>
<rect x="270" y="549" width="3" height="13" fill="#ff0000"/>
<rect x="270" y="556" width="3" height="2" fill="#00ffff"/>
<rect x="273" y="508" width="4" height="2" fill="#ff0000"/>
<rect x="273" y="513" width="4" height="2" fill="#ba55d3"/>
<rect x="273" y="515" width="4" height="2" fill="#ff0000"/>
<rect x="273" y="517" width="4" height="2" fill="#ba55d3"/>
<rect x="273" y="519" width="4" height="5" fill="#3a3aff"/>
<rect x="273" y="534" width="4" height="7" fill="#ff0000"/>
<rect x="273" y="541" width="4" height="2" fill="#00bfff"/>
<rect x="273" y="543" width="4" height="19" fill="#ff0000"/>
<rect x="273" y="554" width="4" height="2" fill="#ffd700"/>
<rect x="277" y="508" width="3" height="2" fill="#ff0000"/>
<rect x="277" y="513" width="3" height="4" fill="#ff0000"/>
<rect x="277" y="517" width="3" height="2" fill="#ffb6c1"/>
<rect x="277" y="526" width="3" height="2" fill="#ff0000"/>
<rect x="277" y="532" width="3" height="4" fill="#ff0000"/>
<rect x="277" y="537" width="3" height="9" fill="#ff0000"/>
<rect x="277" y="547" width="3" height="2" fill="#3a3aff"/>
<rect x="277" y="549" width="3" height="13" fill="#ff0000"/>
<rect x="277" y="558" width="3" height="2" fill="#00bfff"/>
<rect x="280" y="508" width="4" height="2" fill="#ba55d3"/>
<rect x="280" y="510" width="4" height="7" fill="#ff0000"/>
<rect x="280" y="534" width="4" height="2" fill="#00ffff"/>
<rect x="280" y="536" width="4" height="1" fill="#ff0000"/>
<rect x="280" y="537" width="4" height="2" fill="#ffd700"/>
<rect x="280" y="541" width="4" height="2" fill="#00ffff"/>
<rect x="280" y="543" width="4" height="2" fill="#00bfff"/>
<rect x="280" y="546" width="4" height="16" fill="#ff0000"/>
<rect x="280" y="550" width="4" height="2" fill="#00ffff"/>
<rect x="280" y="554" width="4" height="2" fill="#00ffff"/>
<rect x="280" y="558" width="4" height="2" fill="#00bfff"/>
<rect x="284" y="521" width="3" height="2" fill="#3a3aff"/>
<rect x="284" y="523" width="3" height="1" fill="#00bfff"/>
<rect x="284" y="524" width="3" height="2" fill="#3a3aff"/>
<rect x="284" y="541" width="3" height="2" fill="#ffd700"/>
<rect x="284" y="543" width="3" height="2" fill="#ff0000"/>
<rect x="284" y="546" width="3" height="16" fill="#ff0000"/>
<rect x="284" y="547" width="3" height="2" fill="#00bfff"/>
<rect x="284" y="552" width="3" height="2" fill="#00bfff"/>
<rect x="287" y="512" width="3" height="1" fill="#ff0000"/>
<rect x="287" y="513" width="3" height="2" fill="#ba55d3"/>
<rect x="287" y="519" width="3" height="2" fill="#3a3aff"/>
<rect x="287" y="523" width="3" height="1" fill="#ff0000"/>
<rect x="287" y="524" width="3" height="2" fill="#3a3aff"/>
<rect x="287" y="528" width="3" height="2" fill="#00bfff"/>
<rect x="287" y="536" width="3" height="1" fill="#ff0000"/>
<rect x="287" y="537" width="3" height="8" fill="#00bfff"/>
<rect x="287" y="546" width="3" height="16" fill="#ff0000"/>
<rect x="287" y="550" width="3" height="2" fill="#3a3aff"/>
<rect x="287" y="552" width="3" height="2" fill="#ffb6c1"/>
<rect x="287" y="560" width="3" height="2" fill="#ffd700"/>
<rect x="290" y="508" width="4" height="2" fill="#00bfff"/>
<rect x="290" y="510" width="4" height="2" fill="#ba55d3"/>
<rect x="290" y="512" width="4" height="1" fill="#ff0000"/>
<rect x="290" y="515" width="4" height="2" fill="#ba55d3"/>
<rect x="290" y="517" width="4" height="2" fill="#008000"/>
<rect x="290" y="526" width="4" height="2" fill="#ff0000"/>
<rect x="290" y="528" width="4" height="2" fill="#00bfff"/>
<rect x="290" y="532" width="4" height="2" fill="#ff0000"/>
<rect x="290" y="534" width="4" height="2" fill="#00bfff"/>
<rect x="290" y="536" width="4" height="1" fill="#ff0000"/>
<rect x="290" y="537" width="4" height="2" fill="#00bfff"/>
<rect x="290" y="539" width="4" height="4" fill="#3a3aff"/>
<rect x="290" y="543" width="4" height="2" fill="#ba55d3"/>
<rect x="290" y="546" width="4" height="16" fill="#ff0000"/>
<rect x="290" y="547" width="4" height="3" fill="#00ffff"/>
<rect x="290" y="550" width="4" height="2" fill="#ffb6c1"/>
<rect x="290" y="554" width="4" height="2" fill="#3a3aff"/>
<rect x="290" y="558" width="4" height="4" fill="#00bfff"/>
<rect x="294" y="510" width="3" height="2" fill="#008000"/>
<rect x="294" y="512" width="3" height="5" fill="#3a3aff"/>
<rect x="294" y="517" width="3" height="2" fill="#00bfff"/>
<rect x="294" y="519" width="3" height="4" fill="#3a3aff"/>
<rect x="294" y="524" width="3" height="2" fill="#ff0000"/>
<rect x="294" y="530" width="3" height="4" fill="#ff0000"/>
<rect x="294" y="534" width="3" height="2" fill="#ba55d3"/>
<rect x="294" y="536" width="3" height="1" fill="#3a3aff"/>
<rect x="294" y="537" width="3" height="2" fill="#ff0000"/>
<rect x="294" y="539" width="3" height="4" fill="#00bfff"/>
<rect x="294" y="543" width="3" height="2" fill="#ff0000"/>
<rect x="294" y="546" width="3" height="16" fill="#ff0000"/>
<rect x="294" y="546" width="3" height="1" fill="#ffd700"/>
<rect x="294" y="547" width="3" height="2" fill="#00ffff"/>
<rect x="294" y="556" width="3" height="2" fill="#00ffff"/>
<rect x="297" y="508" width="3" height="4" fill="#ff0000"/>
<rect x="297" y="512" width="3" height="1" fill="#00bfff"/>
<rect x="297" y="513" width="3" height="2" fill="#ba55d3"/>
<rect x="297" y="523" width="3" height="1" fill="#ff0000"/>
<rect x="297" y="528" width="3" height="2" fill="#ffb6c1"/>
<rect x="297" y="532" width="3" height="2" fill="#ff0000"/>
<rect x="297" y="534" width="3" height="3" fill="#00bfff"/>
<rect x="297" y="537" width="3" height="2" fill="#3a3aff"/>
<rect x="297" y="541" width="3" height="4" fill="#ff0000"/>
<rect x="297" y="546" width="3" height="16" fill="#ff0000"/>
<rect x="297" y="549" width="3" height="3" fill="#00bfff"/>
<rect x="300" y="510" width="4" height="2" fill="#00bfff"/>
<rect x="300" y="517" width="4" height="2" fill="#ff0000"/>
<rect x="300" y="521" width="4" height="3" fill="#ff0000"/>
<rect x="300" y="528" width="4" height="2" fill="#ff0000"/>
<rect x="300" y="532" width="4" height="2" fill="#00bfff"/>
<rect x="300" y="536" width="4" height="9" fill="#ff0000"/>
<rect x="300" y="546" width="4" height="16" fill="#ff0000"/>
<rect x="300" y="547" width="4" height="2" fill="#ffd700"/>
<rect x="300" y="554" width="4" height="2" fill="#ba55d3"/>
<rect x="300" y="560" width="4" height="2" fill="#3a3aff"/>
<rect x="304" y="512" width="4" height="1" fill="#3a3aff"/>
<rect x="304" y="515" width="4" height="2" fill="#00bfff"/>
<rect x="304" y="517" width="4" height="4" fill="#ff0000"/>
<rect x="304" y="521" width="4" height="2" fill="#3a3aff"/>
<rect x="304" y="524" width="4" height="2" fill="#ffd700"/>
<rect x="304" y="526" width="4" height="2" fill="#00bfff"/>
<rect x="304" y="528" width="4" height="2" fill="#ff0000"/>
<rect x="304" y="530" width="4" height="2" fill="#00ffff"/>
<rect x="304" y="534" width="4" height="2" fill="#ff0000"/>
<rect x="304" y="536" width="4" height="5" fill="#00ffff"/>
<rect x="304" y="541" width="4" height="4" fill="#00bfff"/>
<rect x="304" y="546" width="4" height="10" fill="#ff0000"/>
<rect x="304" y="558" width="4" height="2" fill="#ff0000"/>
<rect x="308" y="517" width="4" height="2" fill="#3a3aff"/>
<rect x="308" y="521" width="4" height="2" fill="#ffb6c1"/>
<rect x="308" y="523" width="4" height="1" fill="#ff0000"/>
<rect x="308" y="524" width="4" height="2" fill="#3a3aff"/>
<rect x="308" y="526" width="4" height="2" fill="#00ffff"/>
<rect x="308" y="528" width="4" height="4" fill="#ff0000"/>
<rect x="308" y="532" width="4" height="2" fill="#00bfff"/>
<rect x="308" y="534" width="4" height="3" fill="#ff0000"/>
<rect x="308" y="537" width="4" height="2" fill="#00bfff"/>
<rect x="308" y="539" width="4" height="6" fill="#ff0000"/>
<rect x="308" y="546" width="4" height="8" fill="#ff0000"/>
<rect x="308" y="556" width="4" height="6" fill="#ff0000"/>
<rect x="308" y="549" width="4" height="3" fill="#00bfff"/>
<rect x="312" y="508" width="4" height="2" fill="#00bfff"/>
<rect x="312" y="510" width="4" height="2" fill="#3a3aff"/>
<rect x="312" y="513" width="4" height="2" fill="#00bfff"/>
<rect x="312" y="517" width="4" height="2" fill="#3a3aff"/>
<rect x="312" y="519" width="4" height="4" fill="#ff0000"/>
<rect x="312" y="523" width="4" height="1" fill="#00bfff"/>
<rect x="312" y="524" width="4" height="21" fill="#ff0000"/>
<rect x="312" y="546" width="4" height="3" fill="#ff0000"/>
<rect x="312" y="549" width="4" height="1" fill="#3a3aff"/>
<rect x="312" y="550" width="4" height="2" fill="#00bfff"/>
<rect x="312" y="554" width="4" height="2" fill="#00ffff"/>
<rect x="312" y="556" width="4" height="2" fill="#00bfff"/>
<rect x="317" y="508" width="4" height="2" fill="#00bfff"/>
<rect x="317" y="513" width="4" height="2" fill="#ffb6c1"/>
<rect x="317" y="515" width="4" height="2" fill="#ff0000"/>
<rect x="317" y="517" width="4" height="2" fill="#00bfff"/>
<rect x="317" y="519" width="4" height="2" fill="#ffd700"/>
<rect x="317" y="521" width="4" height="3" fill="#ff0000"/>
<rect x="317" y="524" width="4" height="2" fill="#00bfff"/>
<rect x="317" y="526" width="4" height="2" fill="#00ffff"/>
<rect x="317" y="528" width="4" height="2" fill="#ffb6c1"/>
<rect x="317" y="530" width="4" height="2" fill="#00ffff"/>
<rect x="317" y="532" width="4" height="4" fill="#00bfff"/>
<rect x="317" y="536" width="4" height="5" fill="#ff0000"/>
<rect x="317" y="543" width="4" height="2" fill="#00bfff"/>
<rect x="317" y="546" width="4" height="6" fill="#ff0000"/>
<rect x="321" y="508" width="7" height="13" fill="#ff0000"/>
<rect x="321" y="521" width="7" height="2" fill="#00bfff"/>
<rect x="321" y="523" width="7" height="1" fill="#ff0000"/>
<rect x="321" y="526" width="7" height="2" fill="#00bfff"/>
<rect x="321" y="528" width="7" height="2" fill="#ff0000"/>
<rect x="321" y="530" width="7" height="6" fill="#00ffff"/>
<rect x="321" y="536" width="7" height="5" fill="#00bfff"/>
<rect x="321" y="541" width="7" height="2" fill="#008000"/>
<rect x="321" y="543" width="7" height="2" fill="#ff0000"/>
<rect x="321" y="546" width="7" height="4" fill="#ff0000"/>
<rect x="328" y="513" width="8" height="2" fill="#ff0000"/>
<rect x="328" y="515" width="8" height="4" fill="#00ffff"/>
<rect x="328" y="519" width="8" height="4" fill="#ff0000"/>
<rect x="328" y="528" width="8" height="8" fill="#008000"/>
<rect x="328" y="536" width="8" height="1" fill="#ffb6c1"/>
<rect x="328" y="537" width="8" height="2" fill="#008000"/>
<rect x="328" y="539" width="8" height="2" fill="#00ffff"/>
<rect x="328" y="541" width="8" height="2" fill="#008000"/>
<rect x="336" y="510" width="4" height="2" fill="#008000"/>
<rect x="336" y="526" width="4" height="6" fill="#00bfff"/>
<rect x="336" y="532" width="4" height="2" fill="#00ffff"/>
<rect x="336" y="534" width="4" height="7" fill="#008000"/>
<rect x="340" y="510" width="3" height="2" fill="#008000"/>
<rect x="340" y="526" width="3" height="6" fill="#00bfff"/>
<rect x="340" y="532" width="3" height="2" fill="#00ffff"/>
<rect x="340" y="534" width="3" height="7" fill="#008000"/>
<rect x="343" y="508" width="6" height="4" fill="#008000"/>
<rect x="343" y="513" width="6" height="2" fill="#ffb6c1"/>
<rect x="343" y="515" width="6" height="2" fill="#008000"/>
<rect x="343" y="519" width="6" height="2" fill="#00ffff"/>
<rect x="343" y="521" width="6" height="7" fill="#008000"/>
<rect x="343" y="528" width="6" height="2" fill="#00bfff"/>
<rect x="343" y="530" width="6" height="7" fill="#008000"/>
<rect x="343" y="537" width="6" height="4" fill="#00bfff"/>
<rect x="349" y="510" width="5" height="5" fill="#00bfff"/>
<rect x="349" y="515" width="5" height="8" fill="#008000"/>
<rect x="349" y="524" width="5" height="13" fill="#008000"/>
<rect x="349" y="550" width="5" height="2" fill="#008000"/>
<rect x="354" y="508" width="4" height="5" fill="#008000"/>
<rect x="354" y="513" width="4" height="4" fill="#00bfff"/>
<rect x="354" y="517" width="4" height="6" fill="#008000"/>
<rect x="354" y="523" width="4" height="1" fill="#00bfff"/>
<rect x="354" y="526" width="4" height="4" fill="#008000"/>
<rect x="354" y="532" width="4" height="2" fill="#00ffff"/>
<rect x="358" y="508" width="4" height="2" fill="#008000"/>
<rect x="358" y="510" width="4" height="2" fill="#00ffff"/>
<rect x="358" y="512" width="4" height="1" fill="#008000"/>
<rect x="358" y="513" width="4" height="2" fill="#00ffff"/>
<rect x="358" y="515" width="4" height="2" fill="#ffd700"/>
<rect x="358" y="517" width="4" height="7" fill="#008000"/>
<rect x="358" y="526" width="4" height="4" fill="#008000"/>
<rect x="358" y="530" width="4" height="2" fill="#00ffff"/>
<rect x="362" y="508" width="4" height="7" fill="#008000"/>
<rect x="362" y="515" width="4" height="4" fill="#00bfff"/>
<rect x="362" y="519" width="4" height="5" fill="#008000"/>
<rect x="362" y="524" width="4" height="4" fill="#00ffff"/>
<rect x="362" y="528" width="4" height="2" fill="#008000"/>
<rect x="366" y="508" width="3" height="7" fill="#008000"/>
<rect x="366" y="523" width="3" height="5" fill="#008000"/>
<rect x="366" y="530" width="3" height="2" fill="#008000"/>
<rect x="369" y="508" width="3" height="2" fill="#008000"/>
<rect x="369" y="510" width="3" height="3" fill="#00ffff"/>
<rect x="369" y="519" width="3" height="2" fill="#00ffff"/>
<rect x="369" y="521" width="3" height="2" fill="#008000"/>
<rect x="372" y="510" width="4" height="2" fill="#008000"/>
<rect x="372" y="519" width="4" height="4" fill="#00ffff"/>
<rect x="376" y="508" width="4" height="4" fill="#00ffff"/>
<rect x="376" y="513" width="4" height="2" fill="#00ffff"/>
<rect x="380" y="513" width="5" height="4" fill="#00ffff"/>
<rect x="380" y="521" width="5" height="2" fill="#00ffff"/>
<rect x="380" y="524" width="5" height="4" fill="#00ffff"/>
<rect x="231" y="460" width="6" height="3" fill="#ff0000"/>
<rect x="231" y="469" width="6" height="4" fill="#ff0000"/>
<rect x="231" y="474" width="6" height="6" fill="#ff0000"/>
<rect x="231" y="487" width="6" height="6" fill="#ff0000"/>
<rect x="231" y="493" width="6" height="2" fill="#00bfff"/>
<rect x="231" y="495" width="6" height="2" fill="#ff0000"/>
<rect x="231" y="497" width="6" height="2" fill="#ffb6c1"/>
<rect x="231" y="500" width="6" height="4" fill="#ff0000"/>
<rect x="231" y="504" width="6" height="2" fill="#00bfff"/>
<rect x="231" y="506" width="6" height="2" fill="#ff0000"/>
<rect x="237" y="454" width="4" height="4" fill="#ff0000"/>
<rect x="237" y="460" width="4" height="1" fill="#00bfff"/>
<rect x="237" y="461" width="4" height="2" fill="#ff0000"/>
<rect x="237" y="487" width="4" height="2" fill="#ffb6c1"/>
<rect x="237" y="489" width="4" height="2" fill="#00ffff"/>
<rect x="241" y="454" width="4" height="4" fill="#ff0000"/>
<rect x="241" y="460" width="4" height="11" fill="#ff0000"/>
<rect x="241" y="476" width="4" height="2" fill="#ff0000"/>
<rect x="241" y="480" width="4" height="2" fill="#00bfff"/>
<rect x="241" y="482" width="4" height="2" fill="#ff0000"/>
<rect x="241" y="484" width="4" height="2" fill="#00bfff"/>
<rect x="241" y="487" width="4" height="2" fill="#ff0000"/>
<rect x="241" y="495" width="4" height="4" fill="#ff0000"/>
<rect x="245" y="454" width="4" height="2" fill="#ff0000"/>
<rect x="245" y="461" width="4" height="2" fill="#ff0000"/>
<rect x="245" y="463" width="4" height="2" fill="#00ffff"/>
<rect x="245" y="465" width="4" height="2" fill="#ff0000"/>
<rect x="245" y="469" width="4" height="2" fill="#ff0000"/>
<rect x="245" y="474" width="4" height="6" fill="#ff0000"/>
<rect x="245" y="480" width="4" height="2" fill="#00bfff"/>
<rect x="245" y="486" width="4" height="3" fill="#00bfff"/>
<rect x="245" y="489" width="4" height="2" fill="#ff0000"/>
<rect x="245" y="493" width="4" height="13" fill="#ff0000"/>
<rect x="245" y="506" width="4" height="2" fill="#00bfff"/>
<rect x="249" y="465" width="4" height="2" fill="#ff0000"/>
<rect x="249" y="473" width="4" height="1" fill="#00bfff"/>
<rect x="249" y="489" width="4" height="2" fill="#ff0000"/>
<rect x="249" y="497" width="4" height="11" fill="#ff0000"/>
<rect x="253" y="473" width="5" height="1" fill="#ff0000"/>
<rect x="253" y="478" width="5" height="4" fill="#ff0000"/>
<rect x="253" y="497" width="5" height="7" fill="#ff0000"/>
<rect x="262" y="493" width="4" height="4" fill="#ff0000"/>
<rect x="262" y="502" width="4" height="6" fill="#ff0000"/>
<rect x="266" y="467" width="4" height="4" fill="#3a3aff"/>
<rect x="266" y="482" width="4" height="2" fill="#ffb6c1"/>
<rect x="266" y="484" width="4" height="2" fill="#ff0000"/>
<rect x="266" y="489" width="4" height="2" fill="#ffd700"/>
<rect x="266" y="506" width="4" height="2" fill="#ff0000"/>
<rect x="270" y="487" width="3" height="4" fill="#ff0000"/>
<rect x="270" y="493" width="3" height="2" fill="#ff0000"/>
<rect x="270" y="495" width="3" height="4" fill="#ffb6c1"/>
<rect x="270" y="500" width="3" height="4" fill="#ff0000"/>
<rect x="273" y="471" width="4" height="2" fill="#ffb6c1"/>
<rect x="273" y="473" width="4" height="3" fill="#ff0000"/>
<rect x="273" y="499" width="4" height="1" fill="#ffb6c1"/>
<rect x="273" y="500" width="4" height="2" fill="#ffd700"/>
<rect x="273" y="502" width="4" height="2" fill="#ff0000"/>
<rect x="277" y="467" width="3" height="2" fill="#ba55d3"/>
<rect x="277" y="476" width="3" height="2" fill="#3a3aff"/>
<rect x="277" y="478" width="3" height="2" fill="#ff0000"/>
<rect x="277" y="480" width="3" height="2" fill="#ffb6c1"/>
<rect x="277" y="482" width="3" height="2" fill="#ff0000"/>
<rect x="277" y="487" width="3" height="2" fill="#ffb6c1"/>
<rect x="277" y="489" width="3" height="4" fill="#ff0000"/>
<rect x="277" y="493" width="3" height="2" fill="#ffb6c1"/>
<rect x="277" y="495" width="3" height="2" fill="#ba55d3"/>
<rect x="277" y="497" width="3" height="2" fill="#ffb6c1"/>
<rect x="277" y="500" width="3" height="4" fill="#ff0000"/>
<rect x="277" y="504" width="3" height="2" fill="#ba55d3"/>
<rect x="280" y="473" width="4" height="1" fill="#ffd700"/>
<rect x="280" y="474" width="4" height="2" fill="#ffb6c1"/>
<rect x="280" y="476" width="4" height="2" fill="#3a3aff"/>
<rect x="280" y="482" width="4" height="2" fill="#008000"/>
<rect x="280" y="489" width="4" height="2" fill="#3a3aff"/>
<rect x="280" y="491" width="4" height="2" fill="#00ffff"/>
<rect x="280" y="497" width="4" height="2" fill="#3a3aff"/>
<rect x="280" y="499" width="4" height="1" fill="#ff0000"/>
<rect x="280" y="504" width="4" height="4" fill="#ff0000"/>
<rect x="284" y="471" width="3" height="2" fill="#008000"/>
<rect x="284" y="473" width="3" height="1" fill="#3a3aff"/>
<rect x="284" y="478" width="3" height="2" fill="#ff0000"/>
<rect x="284" y="480" width="3" height="2" fill="#3a3aff"/>
<rect x="284" y="504" width="3" height="2" fill="#ffd700"/>
<rect x="284" y="506" width="3" height="2" fill="#ff0000"/>
<rect x="287" y="474" width="3" height="2" fill="#3a3aff"/>
<rect x="287" y="478" width="3" height="4" fill="#3a3aff"/>
<rect x="287" y="487" width="3" height="2" fill="#00bfff"/>
<rect x="287" y="489" width="3" height="2" fill="#3a3aff"/>
<rect x="287" y="495" width="3" height="2" fill="#ffb6c1"/>
<rect x="287" y="497" width="3" height="2" fill="#ffd700"/>
<rect x="287" y="502" width="3" height="6" fill="#ff0000"/>
<rect x="290" y="456" width="4" height="2" fill="#ba55d3"/>
<rect x="290" y="458" width="4" height="2" fill="#3a3aff"/>
<rect x="290" y="463" width="4" height="2" fill="#3a3aff"/>
<rect x="290" y="471" width="4" height="3" fill="#3a3aff"/>
<rect x="290" y="480" width="4" height="2" fill="#3a3aff"/>
<rect x="290" y="493" width="4" height="2" fill="#ba55d3"/>
<rect x="290" y="495" width="4" height="2" fill="#ff0000"/>
<rect x="290" y="500" width="4" height="4" fill="#ffb6c1"/>
<rect x="290" y="504" width="4" height="2" fill="#ba55d3"/>
<rect x="290" y="506" width="4" height="2" fill="#ff0000"/>
<rect x="294" y="454" width="3" height="2" fill="#ba55d3"/>
<rect x="294" y="458" width="3" height="2" fill="#3a3aff"/>
<rect x="294" y="478" width="3" height="2" fill="#ffd700"/>
<rect x="294" y="487" width="3" height="2" fill="#ff0000"/>
<rect x="294" y="489" width="3" height="2" fill="#3a3aff"/>
<rect x="294" y="493" width="3" height="2" fill="#008000"/>
<rect x="294" y="495" width="3" height="4" fill="#ff0000"/>
<rect x="294" y="504" width="3" height="2" fill="#ba55d3"/>
<rect x="294" y="506" width="3" height="2" fill="#ff0000"/>
<rect x="297" y="467" width="3" height="2" fill="#ff0000"/>
<rect x="297" y="476" width="3" height="6" fill="#ffd700"/>
<rect x="297" y="491" width="3" height="2" fill="#ba55d3"/>
<rect x="297" y="500" width="3" height="8" fill="#ff0000"/>
<rect x="300" y="467" width="4" height="2" fill="#ffd700"/>
<rect x="300" y="469" width="4" height="2" fill="#ba55d3"/>
<rect x="300" y="473" width="4" height="1" fill="#ffb6c1"/>
<rect x="300" y="474" width="4" height="2" fill="#ffd700"/>
<rect x="300" y="476" width="4" height="2" fill="#ff0000"/>
<rect x="300" y="480" width="4" height="2" fill="#ffd700"/>
<rect x="300" y="487" width="4" height="4" fill="#ffd700"/>
<rect x="300" y="495" width="4" height="5" fill="#ff0000"/>
<rect x="300" y="504" width="4" height="4" fill="#ff0000"/>
<rect x="304" y="467" width="4" height="2" fill="#ffd700"/>
<rect x="304" y="469" width="4" height="2" fill="#ff0000"/>
<rect x="304" y="473" width="4" height="1" fill="#ffb6c1"/>
<rect x="304" y="474" width="4" height="2" fill="#ffd700"/>
<rect x="304" y="476" width="4" height="2" fill="#00ffff"/>
<rect x="304" y="478" width="4" height="2" fill="#ffb6c1"/>
<rect x="304" y="480" width="4" height="4" fill="#ffd700"/>
<rect x="304" y="487" width="4" height="2" fill="#ffb6c1"/>
<rect x="304" y="493" width="4" height="6" fill="#3a3aff"/>
<rect x="304" y="500" width="4" height="2" fill="#3a3aff"/>
<rect x="308" y="456" width="4" height="2" fill="#ff0000"/>
<rect x="308" y="476" width="4" height="6" fill="#ff0000"/>
<rect x="308" y="486" width="4" height="5" fill="#ff0000"/>
<rect x="308" y="493" width="4" height="2" fill="#ff0000"/>
<rect x="308" y="502" width="4" height="4" fill="#00bfff"/>
<rect x="308" y="506" width="4" height="2" fill="#3a3aff"/>
<rect x="312" y="484" width="4" height="2" fill="#00bfff"/>
<rect x="312" y="487" width="4" height="4" fill="#ff0000"/>
<rect x="312" y="491" width="4" height="2" fill="#ffb6c1"/>
<rect x="312" y="497" width="4" height="3" fill="#ff0000"/>
<rect x="312" y="502" width="4" height="2" fill="#ff0000"/>
<rect x="317" y="458" width="4" height="2" fill="#ff0000"/>
<rect x="317" y="471" width="4" height="2" fill="#ff0000"/>
<rect x="317" y="482" width="4" height="2" fill="#ff0000"/>
<rect x="317" y="486" width="4" height="1" fill="#3a3aff"/>
<rect x="317" y="487" width="4" height="2" fill="#ff0000"/>
<rect x="317" y="491" width="4" height="2" fill="#00bfff"/>
<rect x="317" y="504" width="4" height="2" fill="#00bfff"/>
<rect x="317" y="506" width="4" height="2" fill="#ff0000"/>
<rect x="321" y="461" width="7" height="2" fill="#00bfff"/>
<rect x="321" y="465" width="7" height="2" fill="#ba55d3"/>
<rect x="321" y="467" width="7" height="6" fill="#ff0000"/>
<rect x="321" y="478" width="7" height="8" fill="#ff0000"/>
<rect x="321" y="489" width="7" height="4" fill="#ff0000"/>
<rect x="321" y="495" width="7" height="4" fill="#ff0000"/>
<rect x="321" y="500" width="7" height="2" fill="#ff0000"/>
<rect x="321" y="502" width="7" height="2" fill="#00bfff"/>
<rect x="321" y="504" width="7" height="4" fill="#ff0000"/>
<rect x="328" y="458" width="8" height="2" fill="#ff0000"/>
<rect x="328" y="465" width="8" height="2" fill="#ff0000"/>
<rect x="328" y="469" width="8" height="2" fill="#00bfff"/>
<rect x="328" y="473" width="8" height="3" fill="#00bfff"/>
<rect x="328" y="482" width="8" height="2" fill="#ffd700"/>
<rect x="328" y="484" width="8" height="11" fill="#ff0000"/>
<rect x="328" y="495" width="8" height="2" fill="#ffd700"/>
<rect x="328" y="497" width="8" height="9" fill="#ff0000"/>
<rect x="336" y="454" width="4" height="4" fill="#ff0000"/>
<rect x="336" y="461" width="4" height="2" fill="#ff0000"/>
<rect x="336" y="469" width="4" height="4" fill="#ff0000"/>
<rect x="336" y="476" width="4" height="6" fill="#ff0000"/>
<rect x="336" y="495" width="4" height="2" fill="#00bfff"/>
<rect x="336" y="499" width="4" height="1" fill="#ff0000"/>
<rect x="340" y="454" width="3" height="6" fill="#ff0000"/>
<rect x="340" y="461" width="3" height="2" fill="#ff0000"/>
<rect x="340" y="469" width="3" height="4" fill="#ff0000"/>
<rect x="340" y="476" width="3" height="6" fill="#ff0000"/>
<rect x="340" y="495" width="3" height="2" fill="#00bfff"/>
<rect x="340" y="499" width="3" height="1" fill="#ff0000"/>
<rect x="343" y="454" width="6" height="2" fill="#00ffff"/>
<rect x="343" y="465" width="6" height="2" fill="#00bfff"/>
<rect x="343" y="471" width="6" height="2" fill="#00ffff"/>
<rect x="343" y="473" width="6" height="1" fill="#00bfff"/>
<rect x="343" y="476" width="6" height="2" fill="#00bfff"/>
<rect x="343" y="478" width="6" height="2" fill="#ffb6c1"/>
<rect x="343" y="500" width="6" height="2" fill="#00ffff"/>
<rect x="343" y="502" width="6" height="2" fill="#ffd700"/>
<rect x="343" y="504" width="6" height="2" fill="#00bfff"/>
<rect x="343" y="506" width="6" height="2" fill="#008000"/>
<rect x="349" y="458" width="5" height="2" fill="#ff0000"/>
<rect x="349" y="461" width="5" height="2" fill="#008000"/>
<rect x="349" y="467" width="5" height="2" fill="#ff0000"/>
<rect x="349" y="471" width="5" height="3" fill="#ff0000"/>
<rect x="349" y="487" width="5" height="4" fill="#008000"/>
<rect x="349" y="497" width="5" height="2" fill="#008000"/>
<rect x="349" y="500" width="5" height="4" fill="#008000"/>
<rect x="349" y="504" width="5" height="4" fill="#00bfff"/>
<rect x="354" y="482" width="4" height="2" fill="#008000"/>
<rect x="354" y="486" width="4" height="1" fill="#008000"/>
<rect x="354" y="487" width="4" height="2" fill="#00ffff"/>
<rect x="354" y="489" width="4" height="4" fill="#008000"/>
<rect x="354" y="493" width="4" height="2" fill="#00ffff"/>
<rect x="354" y="495" width="4" height="2" fill="#008000"/>
<rect x="354" y="497" width="4" height="3" fill="#00bfff"/>
<rect x="354" y="500" width="4" height="4" fill="#008000"/>
<rect x="354" y="504" width="4" height="2" fill="#00bfff"/>
<rect x="354" y="506" width="4" height="2" fill="#008000"/>
<rect x="358" y="458" width="4" height="3" fill="#008000"/>
<rect x="358" y="482" width="4" height="2" fill="#ffd700"/>
<rect x="358" y="484" width="4" height="5" fill="#008000"/>
<rect x="358" y="489" width="4" height="2" fill="#ffb6c1"/>
<rect x="358" y="491" width="4" height="2" fill="#008000"/>
<rect x="358" y="493" width="4" height="2" fill="#00bfff"/>
<rect x="358" y="495" width="4" height="4" fill="#008000"/>
<rect x="358" y="499" width="4" height="1" fill="#00bfff"/>
<rect x="358" y="500" width="4" height="6" fill="#008000"/>
<rect x="358" y="506" width="4" height="2" fill="#3a3aff"/>
<rect x="362" y="458" width="4" height="2" fill="#008000"/>
<rect x="362" y="460" width="4" height="1" fill="#00bfff"/>
<rect x="362" y="465" width="4" height="9" fill="#008000"/>
<rect x="362" y="476" width="4" height="4" fill="#00ffff"/>
<rect x="362" y="480" width="4" height="7" fill="#008000"/>
<rect x="362" y="487" width="4" height="2" fill="#00bfff"/>
<rect x="362" y="489" width="4" height="2" fill="#008000"/>
<rect x="362" y="491" width="4" height="4" fill="#00bfff"/>
<rect x="362" y="495" width="4" height="4" fill="#008000"/>
<rect x="362" y="499" width="4" height="1" fill="#00bfff"/>
<rect x="362" y="500" width="4" height="2" fill="#008000"/>
<rect x="362" y="504" width="4" height="4" fill="#00ffff"/>
<rect x="366" y="454" width="3" height="2" fill="#008000"/>
<rect x="366" y="456" width="3" height="5" fill="#00bfff"/>
<rect x="366" y="461" width="3" height="8" fill="#008000"/>
<rect x="366" y="469" width="3" height="2" fill="#ff0000"/>
<rect x="366" y="471" width="3" height="9" fill="#008000"/>
<rect x="366" y="480" width="3" height="2" fill="#00ffff"/>
<rect x="366" y="482" width="3" height="9" fill="#008000"/>
<rect x="366" y="493" width="3" height="2" fill="#008000"/>
<rect x="366" y="497" width="3" height="11" fill="#008000"/>
<rect x="369" y="454" width="3" height="2" fill="#00bfff"/>
<rect x="369" y="456" width="3" height="4" fill="#008000"/>
<rect x="369" y="461" width="3" height="8" fill="#008000"/>
<rect x="369" y="473" width="3" height="5" fill="#008000"/>
<rect x="369" y="480" width="3" height="2" fill="#008000"/>
<rect x="369" y="482" width="3" height="2" fill="#ffb6c1"/>
<rect x="369" y="484" width="3" height="2" fill="#008000"/>
<rect x="369" y="486" width="3" height="1" fill="#00bfff"/>
<rect x="369" y="487" width="3" height="6" fill="#008000"/>
<rect x="369" y="502" width="3" height="6" fill="#008000"/>
<rect x="372" y="454" width="4" height="6" fill="#008000"/>
<rect x="372" y="460" width="4" height="3" fill="#00bfff"/>
<rect x="372" y="463" width="4" height="6" fill="#008000"/>
<rect x="372" y="474" width="4" height="2" fill="#008000"/>
<rect x="372" y="476" width="4" height="2" fill="#00ffff"/>
<rect x="372" y="478" width="4" height="8" fill="#008000"/>
<rect x="372" y="486" width="4" height="1" fill="#ffd700"/>
<rect x="372" y="487" width="4" height="2" fill="#008000"/>
<rect x="372" y="493" width="4" height="2" fill="#008000"/>
<rect x="372" y="499" width="4" height="1" fill="#008000"/>
<rect x="372" y="504" width="4" height="4" fill="#00ffff"/>
<rect x="376" y="458" width="4" height="2" fill="#008000"/>
<rect x="376" y="463" width="4" height="8" fill="#008000"/>
<rect x="376" y="471" width="4" height="2" fill="#00ffff"/>
<rect x="376" y="473" width="4" height="1" fill="#008000"/>
<rect x="376" y="476" width="4" height="2" fill="#008000"/>
<rect x="376" y="478" width="4" height="2" fill="#00ffff"/>
<rect x="376" y="480" width="4" height="2" fill="#008000"/>
<rect x="376" y="484" width="4" height="3" fill="#008000"/>
<rect x="376" y="487" width="4" height="2" fill="#00ffff"/>
<rect x="376" y="495" width="4" height="2" fill="#00ffff"/>
<rect x="376" y="500" width="4" height="4" fill="#00ffff"/>
<rect x="380" y="454" width="5" height="2" fill="#008000"/>
<rect x="380" y="456" width="5" height="2" fill="#00ffff"/>
<rect x="380" y="474" width="5" height="2" fill="#008000"/>
<rect x="380" y="476" width="5" height="4" fill="#00ffff"/>
<rect x="380" y="484" width="5" height="3" fill="#00ffff"/>
<rect x="380" y="493" width="5" height="2" fill="#00ffff"/>
<rect x="380" y="499" width="5" height="3" fill="#00ffff"/>
<rect x="380" y="506" width="5" height="2" fill="#00ffff"/>
<rect x="385" y="461" width="5" height="2" fill="#00ffff"/>
<rect x="385" y="463" width="5" height="2" fill="#00bfff"/>
<rect x="385" y="502" width="5" height="2" fill="#ba55d3"/>
<rect x="237" y="402" width="4" height="2" fill="#00ffff"/>
<rect x="237" y="404" width="4" height="4" fill="#ff0000"/>
<rect x="237" y="408" width="4" height="1" fill="#00bfff"/>
<rect x="237" y="409" width="4" height="4" fill="#ff0000"/>
<rect x="237" y="419" width="4" height="2" fill="#00bfff"/>
<rect x="237" y="422" width="4" height="4" fill="#ff0000"/>
<rect x="237" y="432" width="4" height="3" fill="#ff0000"/>
<rect x="237" y="443" width="4" height="2" fill="#ffb6c1"/>
<rect x="237" y="445" width="4" height="3" fill="#ff0000"/>
<rect x="237" y="448" width="4" height="2" fill="#00bfff"/>
<rect x="237" y="450" width="4" height="4" fill="#ff0000"/>
<rect x="241" y="409" width="4" height="2" fill="#ff0000"/>
<rect x="241" y="430" width="4" height="5" fill="#ff0000"/>
<rect x="241" y="435" width="4" height="2" fill="#00bfff"/>
<rect x="241" y="437" width="4" height="17" fill="#ff0000"/>
<rect x="245" y="424" width="4" height="2" fill="#ff0000"/>
<rect x="245" y="426" width="4" height="2" fill="#00bfff"/>
<rect x="245" y="428" width="4" height="2" fill="#ff0000"/>
<rect x="249" y="426" width="4" height="2" fill="#ffb6c1"/>
<rect x="249" y="428" width="4" height="2" fill="#ff0000"/>
<rect x="249" y="435" width="4" height="2" fill="#ff0000"/>
<rect x="249" y="450" width="4" height="2" fill="#ff0000"/>
<rect x="253" y="448" width="5" height="4" fill="#ff0000"/>
<rect x="237" y="369" width="4" height="1" fill="#00bfff"/>
<rect x="237" y="376" width="4" height="2" fill="#ff0000"/>
<rect x="237" y="382" width="4" height="5" fill="#ff0000"/>
<rect x="241" y="383" width="4" height="2" fill="#ff0000"/>
<rect x="237" y="391" width="4" height="4" fill="#ff0000"/>
<rect x="304" y="424" width="4" height="2" fill="#ffb6c1"/>
<rect x="304" y="426" width="4" height="2" fill="#ba55d3"/>
<rect x="297" y="439" width="3" height="2" fill="#ba55d3"/>
<rect x="294" y="445" width="3" height="3" fill="#3a3aff"/>
<rect x="294" y="450" width="6" height="2" fill="#ba55d3"/>
<rect x="308" y="447" width="4" height="3" fill="#ff0000"/>
<rect x="312" y="452" width="4" height="2" fill="#ff0000"/>
<rect x="317" y="432" width="4" height="2" fill="#ff0000"/>
<rect x="317" y="445" width="4" height="3" fill="#ff0000"/>
<rect x="328" y="419" width="12" height="2" fill="#ff0000"/>
<rect x="328" y="428" width="8" height="2" fill="#00bfff"/>
<rect x="328" y="432" width="8" height="2" fill="#00bfff"/>
<rect x="328" y="434" width="8" height="1" fill="#ff0000"/>
<rect x="328" y="435" width="8" height="4" fill="#00bfff"/>
<rect x="328" y="448" width="8" height="2" fill="#00ffff"/>
<rect x="328" y="450" width="8" height="2" fill="#00bfff"/>
<rect x="336" y="404" width="4" height="4" fill="#ff0000"/>
<rect x="336" y="411" width="4" height="4" fill="#ff0000"/>
<rect x="336" y="424" width="4" height="2" fill="#ff0000"/>
<rect x="336" y="428" width="4" height="2" fill="#ff0000"/>
<rect x="336" y="434" width="4" height="3" fill="#ff0000"/>
<rect x="336" y="441" width="4" height="4" fill="#ff0000"/>
<rect x="336" y="448" width="4" height="6" fill="#ff0000"/>
<rect x="340" y="404" width="3" height="4" fill="#ff0000"/>
<rect x="340" y="411" width="3" height="4" fill="#ff0000"/>
<rect x="340" y="419" width="3" height="2" fill="#ff0000"/>
<rect x="340" y="424" width="3" height="2" fill="#ff0000"/>
<rect x="340" y="428" width="3" height="2" fill="#ff0000"/>
<rect x="340" y="434" width="3" height="3" fill="#ff0000"/>
<rect x="340" y="441" width="3" height="4" fill="#ff0000"/>
<rect x="340" y="448" width="3" height="6" fill="#ff0000"/>
<rect x="343" y="450" width="6" height="2" fill="#00bfff"/>
<rect x="343" y="452" width="6" height="2" fill="#00ffff"/>
<rect x="354" y="452" width="4" height="2" fill="#00bfff"/>
<rect x="358" y="439" width="4" height="2" fill="#ff0000"/>
<rect x="358" y="450" width="4" height="2" fill="#008000"/>
<rect x="362" y="443" width="4" height="2" fill="#008000"/>
<rect x="362" y="450" width="4" height="2" fill="#008000"/>
<rect x="366" y="411" width="3" height="4" fill="#008000"/>
<rect x="366" y="426" width="3" height="4" fill="#008000"/>
<rect x="366" y="430" width="3" height="2" fill="#00bfff"/>
<rect x="366" y="432" width="3" height="2" fill="#008000"/>
<rect x="366" y="434" width="3" height="1" fill="#00bfff"/>
<rect x="366" y="439" width="3" height="2" fill="#008000"/>
<rect x="366" y="443" width="3" height="2" fill="#008000"/>
<rect x="369" y="404" width="3" height="4" fill="#008000"/>
<rect x="369" y="413" width="3" height="2" fill="#008000"/>
<rect x="369" y="417" width="3" height="2" fill="#008000"/>
<rect x="369" y="422" width="3" height="10" fill="#008000"/>
<rect x="369" y="434" width="3" height="14" fill="#008000"/>
<rect x="369" y="450" width="3" height="4" fill="#008000"/>
<rect x="372" y="406" width="4" height="9" fill="#008000"/>
<rect x="372" y="417" width="4" height="7" fill="#008000"/>
<rect x="372" y="430" width="4" height="2" fill="#008000"/>
<rect x="372" y="435" width="4" height="13" fill="#008000"/>
<rect x="376" y="406" width="4" height="5" fill="#008000"/>
<rect x="376" y="428" width="4" height="4" fill="#008000"/>
<rect x="376" y="435" width="4" height="2" fill="#008000"/>
<rect x="376" y="439" width="4" height="6" fill="#008000"/>
<rect x="376" y="447" width="4" height="5" fill="#008000"/>
<rect x="380" y="422" width="5" height="2" fill="#008000"/>
<rect x="380" y="430" width="5" height="2" fill="#008000"/>
<rect x="380" y="437" width="5" height="6" fill="#00ffff"/>
<rect x="380" y="445" width="5" height="3" fill="#008000"/>
<rect x="380" y="448" width="5" height="2" fill="#ffd700"/>
<rect x="380" y="450" width="5" height="4" fill="#008000"/>
<rect x="385" y="432" width="5" height="2" fill="#3a3aff"/>
<rect x="336" y="382" width="7" height="1" fill="#ff0000"/>
<rect x="369" y="380" width="3" height="2" fill="#00bfff"/>
<rect x="385" y="383" width="5" height="2" fill="#00bfff"/>
<rect x="262" y="562" width="4" height="3" fill="#ff0000"/>
<rect x="266" y="562" width="4" height="3" fill="#00ffff"/>
<rect x="270" y="562" width="24" height="1" fill="#ff0000"/>
<rect x="270" y="563" width="10" height="2" fill="#ff0000"/>
<rect x="284" y="563" width="10" height="2" fill="#ff0000"/>
<rect x="277" y="562" width="3" height="1" fill="#00bfff"/>
<rect x="294" y="562" width="6" height="1" fill="#ff0000"/>
<rect x="308" y="558" width="4" height="4" fill="#ff0000"/>
<rect x="270" y="565" width="3" height="2" fill="#00ffff"/>
<rect x="277" y="565" width="13" height="2" fill="#ff0000"/>
<rect x="294" y="565" width="3" height="2" fill="#ff0000"/>
<rect x="300" y="565" width="4" height="2" fill="#ff0000"/>
<rect x="273" y="567" width="4" height="4" fill="#00ffff"/>
<rect x="280" y="567" width="4" height="4" fill="#ff0000"/>
<rect x="287" y="567" width="3" height="2" fill="#ff0000"/>
<rect x="277" y="573" width="3" height="2" fill="#ff0000"/>
</g>
<g stroke="#b0b0b0" stroke-width="1.33" fill="none">
<line x1="131.50" y1="100.5" x2="131.50" y2="793.5"/>
<line x1="223.50" y1="100.5" x2="223.50" y2="793.5"/>
<line x1="316.50" y1="100.5" x2="316.50" y2="793.5"/>
<line x1="408.50" y1="100.5" x2="408.50" y2="793.5"/>
<line x1="501.50" y1="100.5" x2="501.50" y2="793.5"/>
<line x1="593.50" y1="100.5" x2="593.50" y2="793.5"/>
<line x1="685.50" y1="100.5" x2="685.50" y2="793.5"/>
<line x1="85.5" y1="669.50" x2="778.5" y2="669.50"/>
<line x1="85.5" y1="545.50" x2="778.5" y2="545.50"/>
<line x1="85.5" y1="421.50" x2="778.5" y2="421.50"/>
<line x1="85.5" y1="298.50" x2="778.5" y2="298.50"/>
<line x1="85.5" y1="174.50" x2="778.5" y2="174.50"/>
</g>
<rect x="85.5" y="100.5" width="693.0" height="693.0" fill="none" stroke="#000" stroke-width="1.33"/>
<g stroke="#000" stroke-width="1.33">
<line x1="131.50" y1="793.5" x2="131.50" y2="798.8"/>
<line x1="223.50" y1="793.5" x2="223.50" y2="798.8"/>
<line x1="316.50" y1="793.5" x2="316.50" y2="798.8"/>
<line x1="408.50" y1="793.5" x2="408.50" y2="798.8"/>
<line x1="501.50" y1="793.5" x2="501.50" y2="798.8"/>
<line x1="593.50" y1="793.5" x2="593.50" y2="798.8"/>
<line x1="685.50" y1="793.5" x2="685.50" y2="798.8"/>
<line x1="778.50" y1="793.5" x2="778.50" y2="798.8"/>
<line x1="85.5" y1="793.50" x2="80.2" y2="793.50"/>
<line x1="85.5" y1="669.50" x2="80.2" y2="669.50"/>
<line x1="85.5" y1="545.50" x2="80.2" y2="545.50"/>
<line x1="85.5" y1="421.50" x2="80.2" y2="421.50"/>
<line x1="85.5" y1="298.50" x2="80.2" y2="298.50"/>
<line x1="85.5" y1="174.50" x2="80.2" y2="174.50"/>
</g><g stroke="#000" stroke-width="1">
<line x1="85.50" y1="793.5" x2="85.50" y2="796.5"/>
<line x1="108.50" y1="793.5" x2="108.50" y2="796.5"/>
<line x1="154.50" y1="793.5" x2="154.50" y2="796.5"/>
<line x1="177.50" y1="793.5" x2="177.50" y2="796.5"/>
<line x1="200.50" y1="793.5" x2="200.50" y2="796.5"/>
<line x1="247.50" y1="793.5" x2="247.50" y2="796.5"/>
<line x1="270.50" y1="793.5" x2="270.50" y2="796.5"/>
<line x1="293.50" y1="793.5" x2="293.50" y2="796.5"/>
<line x1="339.50" y1="793.5" x2="339.50" y2="796.5"/>
<line x1="362.50" y1="793.5" x2="362.50" y2="796.5"/>
<line x1="385.50" y1="793.5" x2="385.50" y2="796.5"/>
<line x1="431.50" y1="793.5" x2="431.50" y2="796.5"/>
<line x1="454.50" y1="793.5" x2="454.50" y2="796.5"/>
<line x1="478.50" y1="793.5" x2="478.50" y2="796.5"/>
<line x1="524.50" y1="793.5" x2="524.50" y2="796.5"/>
<line x1="547.50" y1="793.5" x2="547.50" y2="796.5"/>
<line x1="570.50" y1="793.5" x2="570.50" y2="796.5"/>
<line x1="616.50" y1="793.5" x2="616.50" y2="796.5"/>
<line x1="639.50" y1="793.5" x2="639.50" y2="796.5"/>
<line x1="662.50" y1="793.5" x2="662.50" y2="796.5"/>
<line x1="709.50" y1="793.5" x2="709.50" y2="796.5"/>
<line x1="732.50" y1="793.5" x2="732.50" y2="796.5"/>
<line x1="755.50" y1="793.5" x2="755.50" y2="796.5"/>
<line x1="85.5" y1="762.50" x2="82.5" y2="762.50"/>
<line x1="85.5" y1="731.50" x2="82.5" y2="731.50"/>
<line x1="85.5" y1="700.50" x2="82.5" y2="700.50"/>
<line x1="85.5" y1="638.50" x2="82.5" y2="638.50"/>
<line x1="85.5" y1="607.50" x2="82.5" y2="607.50"/>
<line x1="85.5" y1="576.50" x2="82.5" y2="576.50"/>
<line x1="85.5" y1="514.50" x2="82.5" y2="514.50"/>
<line x1="85.5" y1="483.50" x2="82.5" y2="483.50"/>
<line x1="85.5" y1="452.50" x2="82.5" y2="452.50"/>
<line x1="85.5" y1="390.50" x2="82.5" y2="390.50"/>
<line x1="85.5" y1="359.50" x2="82.5" y2="359.50"/>
<line x1="85.5" y1="328.50" x2="82.5" y2="328.50"/>
<line x1="85.5" y1="267.50" x2="82.5" y2="267.50"/>
<line x1="85.5" y1="236.50" x2="82.5" y2="236.50"/>
<line x1="85.5" y1="205.50" x2="82.5" y2="205.50"/>
<line x1="85.5" y1="143.50" x2="82.5" y2="143.50"/>
<line x1="85.5" y1="112.50" x2="82.5" y2="112.50"/>
</g>
<g font-size="13.89px">
<text x="131.50" y="813.8" text-anchor="middle">2</text>
<text x="223.90" y="813.8" text-anchor="middle">4</text>
<text x="316.30" y="813.8" text-anchor="middle">6</text>
<text x="408.70" y="813.8" text-anchor="middle">8</text>
<text x="501.10" y="813.8" text-anchor="middle">10</text>
<text x="593.50" y="813.8" text-anchor="middle">12</text>
<text x="685.90" y="813.8" text-anchor="middle">14</text>
<text x="778.30" y="813.8" text-anchor="middle">16</text>
<text x="74.5" y="799.10" text-anchor="end">0</text>
<text x="74.5" y="675.10" text-anchor="end">200</text>
<text x="74.5" y="551.10" text-anchor="end">400</text>
<text x="74.5" y="427.10" text-anchor="end">600</text>
<text x="74.5" y="304.10" text-anchor="end">800</text>
<text x="74.5" y="180.10" text-anchor="end">1000</text>
</g>
<text x="430.70" y="841" font-size="24px" text-anchor="middle">Frequency (MHz)</text>
<text transform="translate(28,447.00) rotate(-90)" font-size="24px" text-anchor="middle">Virtual height (km)</text>
<text x="419" y="31.9" font-size="28.8px" text-anchor="middle">NAL CADI - Aug 10 10:00:00 2023 UTC</text>
<g shape-rendering="crispEdges">
<rect x="809.5" y="712.00" width="30.0" height="90.00" fill="#008000"/>
<rect x="809.5" y="622.00" width="30.0" height="90.00" fill="#ff0000"/>
<rect x="809.5" y="532.00" width="30.0" height="90.00" fill="#3a3aff"/>
<rect x="809.5" y="442.00" width="30.0" height="90.00" fill="#ba55d3"/>
<rect x="809.5" y="352.00" width="30.0" height="90.00" fill="#ffb6c1"/>
<rect x="809.5" y="262.00" width="30.0" height="90.00" fill="#ffd700"/>
<rect x="809.5" y="172.00" width="30.0" height="90.00" fill="#00ffff"/>
<rect x="809.5" y="82.00" width="30.0" height="90.00" fill="#00bfff"/>
</g>
<rect x="809.5" y="82.5" width="30.0" height="720.0" fill="none" stroke="#000" stroke-width="1.33"/>
<g stroke="#000" stroke-width="1.33">
<line x1="839.5" y1="757.50" x2="844.8" y2="757.50"/>
<line x1="839.5" y1="667.50" x2="844.8" y2="667.50"/>
<line x1="839.5" y1="577.50" x2="844.8" y2="577.50"/>
<line x1="839.5" y1="487.50" x2="844.8" y2="487.50"/>
<line x1="839.5" y1="397.50" x2="844.8" y2="397.50"/>
<line x1="839.5" y1="307.50" x2="844.8" y2="307.50"/>
<line x1="839.5" y1="217.50" x2="844.8" y2="217.50"/>
<line x1="839.5" y1="127.50" x2="844.8" y2="127.50"/>
</g><g stroke="#000" stroke-width="1">
<line x1="839.5" y1="802.50" x2="842.5" y2="802.50"/>
<line x1="839.5" y1="712.50" x2="842.5" y2="712.50"/>
<line x1="839.5" y1="622.50" x2="842.5" y2="622.50"/>
<line x1="839.5" y1="532.50" x2="842.5" y2="532.50"/>
<line x1="839.5" y1="442.50" x2="842.5" y2="442.50"/>
<line x1="839.5" y1="352.50" x2="842.5" y2="352.50"/>
<line x1="839.5" y1="262.50" x2="842.5" y2="262.50"/>
<line x1="839.5" y1="172.50" x2="842.5" y2="172.50"/>
<line x1="839.5" y1="82.50" x2="842.5" y2="82.50"/>
</g>
<g font-size="16.67px">
<text x="848.7" y="762.80">X-mode</text>
<text x="848.7" y="672.80">Vertical</text>
<text x="848.7" y="582.80">NNW</text>
<text x="848.7" y="492.80">W</text>
<text x="848.7" y="402.80">SSW</text>
<text x="848.7" y="312.80">SSE</text>
<text x="848.7" y="222.80">E</text>
<text x="848.7" y="132.80">NNE</text>
</g>
<text transform="translate(936,442.50) rotate(-90)" font-size="24px" text-anchor="middle">Azimuth Direction</text>
</svg></body></html>
